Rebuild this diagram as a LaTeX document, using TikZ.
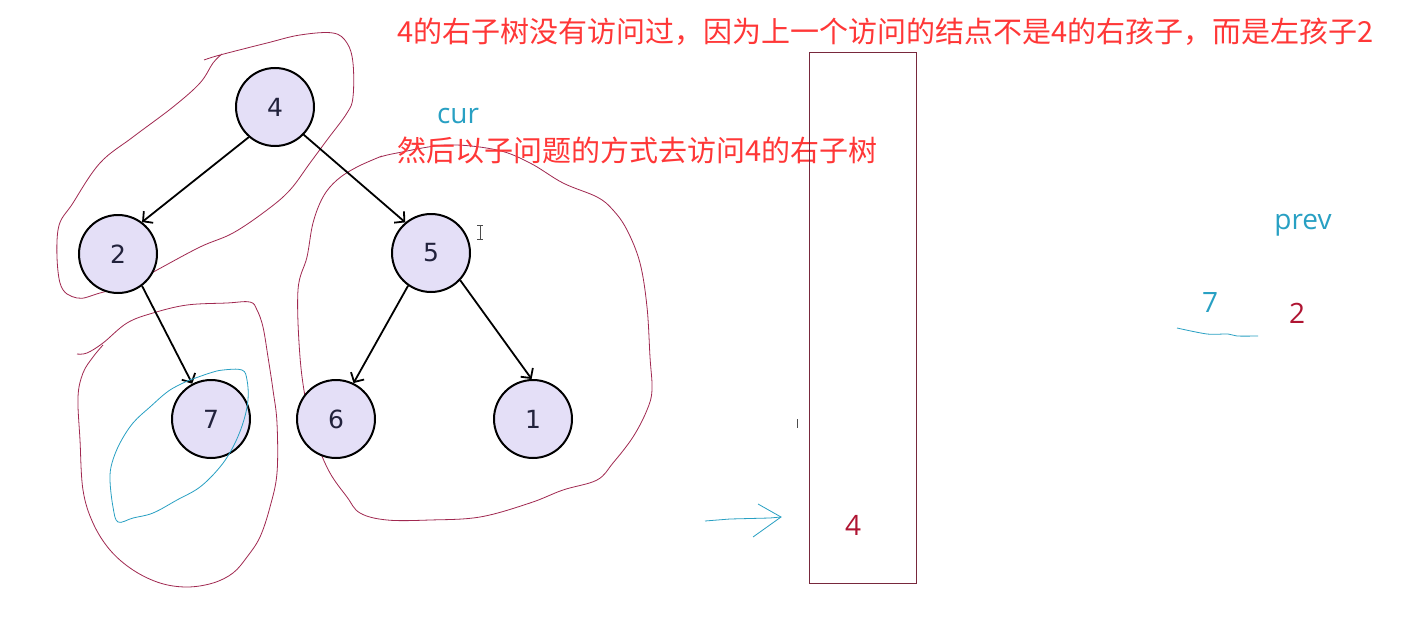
\documentclass[tikz,border=0pt]{standalone}
\usepackage{fontspec}
\setmainfont{Open Sans}
\newfontfamily\cjk{Noto Sans CJK SC}
\newfontfamily\dvs{DejaVu Sans}
\usetikzlibrary{arrows.meta}
\definecolor{nodefill}{RGB}{228,223,247}
\definecolor{ink}{RGB}{34,34,60}
\definecolor{loopc}{RGB}{160,40,80}
\definecolor{tealc}{RGB}{40,160,195}
\definecolor{redtxt}{RGB}{255,55,55}
\definecolor{darkred}{RGB}{175,20,50}
\definecolor{boxc}{RGB}{120,40,60}
\begin{document}
\begin{tikzpicture}[x=1pt,y=-1pt,
  treenode/.style={circle,draw=black,line width=2pt,fill=nodefill,minimum size=78pt,inner sep=0pt,font=\dvs\fontsize{25}{30}\selectfont,text=ink},
  edge/.style={-{Straight Barb[length=7pt,width=15pt]},line width=1.8pt,black},
  loopline/.style={draw=loopc,line width=0.8pt,smooth,tension=0.6},
  tealline/.style={draw=tealc,line width=0.8pt},
  redtext/.style={anchor=west,inner sep=0pt,text=redtxt,font=\cjk\fontsize{29}{32}\selectfont},
  tealtext/.style={inner sep=0pt,text=tealc,font=\fontsize{28}{32}\selectfont},
  darktext/.style={inner sep=0pt,text=darkred,font=\fontsize{28}{32}\selectfont}
]
\fill[white] (0,0) rectangle (1414,618);
\useasboundingbox (0,0) rectangle (1414,618);

% hand-drawn loops
\draw[loopline] plot coordinates {(204,60) (220,55) (267,43) (300,35) (333,33) (347,43) (353,63) (353,97) (347,113) (327,140) (310,163) (290,190) (267,210) (233,233) (200,247) (157,270) (133,283) (100,293) (77,298) (60,283) (58,230) (73,203) (100,163) (133,137) (173,107) (200,83) (213,63) (222,54)};
\draw[loopline] plot coordinates {(380,157) (397,153) (447,145) (497,150) (530,163) (563,183) (597,197) (613,210) (627,230) (640,263) (647,307) (650,357) (652,390) (647,410) (633,437) (613,463) (597,480) (563,490) (530,503) (480,517) (430,520) (387,520) (360,513) (347,497) (330,473) (317,443) (307,407) (300,357) (298,290) (307,257) (313,223) (323,197) (337,180) (357,167) (382,156)};
\draw[loopline] plot coordinates {(77,354) (87,353) (103,343) (127,323) (153,313) (187,305) (227,303) (250,302) (257,310) (263,327) (268,357) (273,390) (277,423) (277,473) (270,507) (260,537) (247,557) (233,573) (213,583) (187,587) (160,583) (133,570) (110,550) (93,523) (83,490) (80,440) (78,397) (83,373) (93,357) (103,345)};

% nodes
\node[treenode] (n4) at (275,107) {4};
\node[treenode] (n2) at (118,254) {2};
\node[treenode] (n5) at (431,253) {5};
\node[treenode] (n7) at (211,419) {7};
\node[treenode] (n6) at (336,419) {6};
\node[treenode] (n1) at (533,419) {1};

\draw[edge] (n4.{-131}) -- (n2.53);
\draw[edge] (n4.{-44}) -- (n5.130);
\draw[edge] (n2.{-53}) -- (n7.118);
\draw[edge] (n5.{-125}) -- (n6.64);
\draw[edge] (n5.{-43}) -- (n1.92);

% teal loop around 7
\draw[tealline,smooth,tension=0.6] plot coordinates {(190,380) (210,373) (223,370) (242,370) (247,380) (248,400) (243,423) (233,447) (220,467) (200,487) (177,500) (153,513) (133,518) (118,522) (113,507) (110,480) (112,463) (120,443) (133,423) (150,407) (170,390) (192,379)};

% texts
\node[redtext] (t1) at (397,32) {4的右子树没有访问过，因为上一个访问的结点不是4的右孩子，而是左孩子2};
\node[redtext] (t2) at (397,150) {然后以子问题的方式去访问4的右子树};
\node[tealtext] (cur) at (458,116) {cur};
\node[tealtext] (prev) at (1303,225) {prev};
\node[tealtext] (p7) at (1210,303) {7};
\node[darktext] (p2) at (1297,313) {2};

% stack box
\node[draw=boxc,line width=1pt,minimum width=107pt,minimum height=530pt,inner sep=0pt] (stack) at (862.5,318) {};
\node[darktext] (s4) at (853,525) {4};

% teal arrow pointing at stack
\coordinate (ta) at (705,521);
\coordinate (tb) at (781,517);
\draw[tealline] (ta) -- (730,519) -- (770,518) -- (tb);
\draw[tealline] (758,504) -- (tb) -- (753,537);

% teal underline
\draw[tealline] plot[smooth] coordinates {(1177,328) (1207,334) (1228,334) (1237,336) (1258,336)};

% cursor and marks
\draw[black!70,line width=0.8pt] (480,225) -- (480,239) (477,225) -- (483,225) (477,239) -- (483,239);
\draw[black!70,line width=0.8pt] (797,419) -- (797,428);
\end{tikzpicture}
\end{document}
